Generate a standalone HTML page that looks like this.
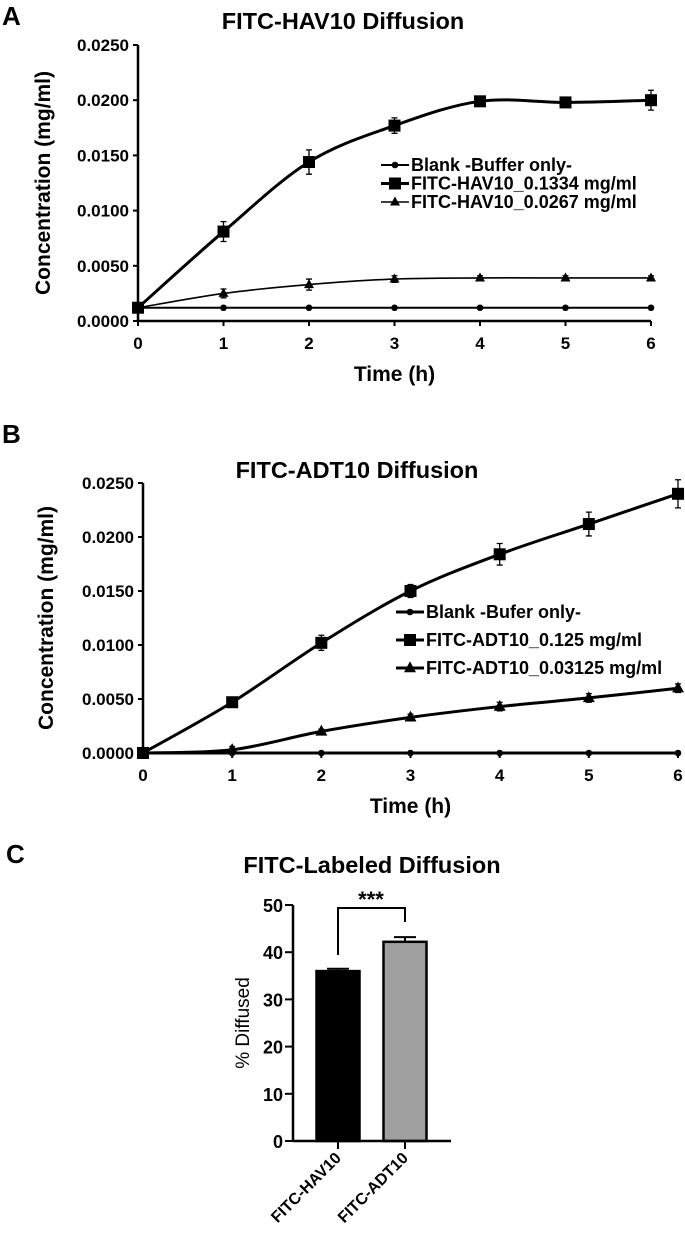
<!DOCTYPE html>
<html><head><meta charset="utf-8"><style>
body{margin:0;background:#fff;width:685px;height:1242px;overflow:hidden}
svg{display:block;font-family:"Liberation Sans",Arial,sans-serif}
</style></head><body>
<svg id="s" width="685" height="1242" viewBox="0 0 685 1242"></svg>
<script>
const timesH=[0,1,2,3,4,5,6];
const aTicks=["0.0000","0.0050","0.0100","0.0150","0.0200","0.0250"];
const aBlank=[0.0012,0.0012,0.0012,0.0012,0.0012,0.0012,0.0012];
const aHigh=[0.0012,0.0081,0.0144,0.0177,0.0199,0.0198,0.0200];
const aHighErr=[0,0.0009,0.0011,0.0007,0.0003,0.0003,0.0009];
const aLow=[0.0012,0.0025,0.0033,0.0038,0.0039,0.0039,0.0039];
const aLowErr=[0,0.0004,0.0005,0.0003,0.0002,0.0002,0.0002];
const bBlank=[0,0,0,0,0,0,0];
const bHigh=[0,0.0047,0.0102,0.0150,0.0184,0.0212,0.0240];
const bHighErr=[0,0.0002,0.0007,0.0006,0.0010,0.0011,0.0013];
const bLow=[0,0.0003,0.0020,0.0033,0.0043,0.0051,0.0060];
const bLowErr=[0,0.0003,0.0002,0.0003,0.0004,0.0004,0.0004];
const cCats=["FITC-HAV10","FITC-ADT10"];
const cVals=[36,42.2];
const cErr=[0.5,1.0];
const cTicks=[0,10,20,30,40,50];

const S=document.getElementById('s');const NS='http://www.w3.org/2000/svg';
function el(t,a,txt){const e=document.createElementNS(NS,t);for(const k in a)e.setAttribute(k,a[k]);if(txt!==undefined)e.textContent=txt;S.appendChild(e);return e;}
function spline(pts){let d='M'+pts[0][0]+','+pts[0][1];for(let i=0;i<pts.length-1;i++){const p0=pts[i-1]||pts[i],p1=pts[i],p2=pts[i+1],p3=pts[i+2]||p2;const t=6;d+=` C${p1[0]+(p2[0]-p0[0])/t},${p1[1]+(p2[1]-p0[1])/t} ${p2[0]-(p3[0]-p1[0])/t},${p2[1]-(p3[1]-p1[1])/t} ${p2[0]},${p2[1]}`;}return d;}

function lineChart(o){
  const X=v=>o.x0+(o.x1-o.x0)*v/6, Y=v=>o.y0-(o.y0-o.y1)*v/0.025;
  let e=el('text',{x:o.tx,y:o.ty,'font-size':23.5,'font-weight':'bold','text-anchor':'middle'},o.title);
  
  e=el('line',{x1:o.x0,y1:o.y1,x2:o.x0,y2:o.y0,stroke:'#000','stroke-width':2.5});
  
  e=el('line',{x1:o.x0,y1:o.y0,x2:o.x1,y2:o.y0,stroke:'#000','stroke-width':2.5});
  
  aTicks.forEach(t=>{const y=Y(+t);el('line',{x1:o.x0-5,y1:y,x2:o.x0,y2:y,stroke:'#000','stroke-width':2});
    e=el('text',{x:o.x0-9,y:y+6,'font-size':17,'font-weight':'bold','text-anchor':'end'},t);
    });
  timesH.forEach(t=>{const x=X(t);el('line',{x1:x,y1:o.y0,x2:x,y2:o.y0+5,stroke:'#000','stroke-width':2});
    e=el('text',{x:x,y:o.y0+28,'font-size':17,'font-weight':'bold','text-anchor':'middle'},t);
    });
  e=el('text',{x:(o.x0+o.x1)/2,y:o.y0+60,'font-size':21,'font-weight':'bold','text-anchor':'middle'},'Time (h)');
  
  const cy=(o.y0+o.y1)/2;
  e=el('text',{x:o.ylx,y:cy,'font-size':21,'font-weight':'bold','text-anchor':'middle',transform:`rotate(-90 ${o.ylx} ${cy})`},'Concentration (mg/ml)');
  
  o.series.forEach((s,si)=>{
    const pts=timesH.map((t,i)=>[X(t),Y(s.v[i])]);
    e=el('path',{d:spline(pts),fill:'none',stroke:'#000','stroke-width':s.w});
    
    timesH.forEach((t,i)=>{const x=X(t),y=Y(s.v[i]);
      if(s.err&&s.err[i]){const e1=Y(s.v[i]+s.err[i]),e2=Y(s.v[i]-s.err[i]);
        el('path',{d:`M${x},${e1}V${e2}M${x-3},${e1}H${x+3}M${x-3},${e2}H${x+3}`,stroke:'#000','stroke-width':1.3,fill:'none'});}
      marker(s.m,x,y,s.ms,o.p+'-point-'+s.n);});
    const ly=o.ly+si*o.lg;
    el('line',{x1:o.lx,y1:ly,x2:o.lx+28,y2:ly,stroke:'#000','stroke-width':s.w});
    marker(s.m,o.lx+14,ly,s.ms,o.p+'-legend-marker');
    e=el('text',{x:o.lx+30,y:ly+6,'font-size':18,'font-weight':'bold'},s.label);
    
  });
}
function marker(m,x,y,sz,name){let e;
  if(m==='c')e=el('circle',{cx:x,cy:y,r:sz*0.55,fill:'#000'});
  else if(m==='s')e=el('rect',{x:x-sz,y:y-sz,width:2*sz,height:2*sz,fill:'#000'});
  else e=el('path',{d:`M${x},${y-sz*1.1}L${x+sz},${y+sz*0.7}L${x-sz},${y+sz*0.7}Z`,fill:'#000'});
  }

let e=el('text',{x:2,y:25,'font-size':26,'font-weight':'bold'},'A');
e=el('text',{x:2,y:443,'font-size':26,'font-weight':'bold'},'B');
e=el('text',{x:6,y:863,'font-size':26,'font-weight':'bold'},'C');

lineChart({p:'a',x0:138,x1:651,y0:321,y1:45,tx:343,ty:29,title:'FITC-HAV10 Diffusion',ylx:50,lx:381,ly:165,lg:18.5,
  series:[{n:'blank',v:aBlank,w:2,m:'c',ms:6,label:'Blank -Buffer only-'},
          {n:'high',v:aHigh,err:aHighErr,w:3,m:'s',ms:6,label:'FITC-HAV10_0.1334 mg/ml'},
          {n:'low',v:aLow,err:aLowErr,w:1.6,m:'t',ms:5,label:'FITC-HAV10_0.0267 mg/ml'}]});
lineChart({p:'b',x0:143,x1:678,y0:753,y1:483,tx:357,ty:478,title:'FITC-ADT10 Diffusion',ylx:53,lx:396,ly:612,lg:28,
  series:[{n:'blank',v:bBlank,w:3,m:'c',ms:6,label:'Blank -Bufer only-'},
          {n:'high',v:bHigh,err:bHighErr,w:3,m:'s',ms:6,label:'FITC-ADT10_0.125 mg/ml'},
          {n:'low',v:bLow,err:bLowErr,w:3,m:'t',ms:6,label:'FITC-ADT10_0.03125 mg/ml'}]});

// Panel C
const cx0=293,cx1=451,cy0=1141,cy1=905;const CY=v=>cy0-(cy0-cy1)*v/50;
const cCenters=[338,405],bw=43;
e=el('text',{x:372,y:873,'font-size':23.5,'font-weight':'bold','text-anchor':'middle'},'FITC-Labeled Diffusion');
cVals.forEach((v,i)=>{const cx=cCenters[i];
  let b=el('rect',{x:cx-bw/2,y:CY(v),width:bw,height:cy0-CY(v),fill:i?'#a0a0a0':'#000',stroke:'#000','stroke-width':2.5});
  
  const et=CY(v+cErr[i]);el('path',{d:`M${cx},${CY(v)}V${et}M${cx-11},${et}H${cx+11}`,stroke:'#000','stroke-width':2,fill:'none'});
  el('line',{x1:cx,y1:cy0,x2:cx,y2:cy0+8,stroke:'#000','stroke-width':2});
  const t=el('text',{x:cx+4,y:cy0+18,'font-size':16,'font-weight':'bold','text-anchor':'end',transform:`rotate(-45 ${cx+4} ${cy0+18})`},cCats[i]);
  });
e=el('line',{x1:cx0,y1:cy1,x2:cx0,y2:cy0,stroke:'#000','stroke-width':2.5});
e=el('line',{x1:cx0,y1:cy0,x2:cx1,y2:cy0,stroke:'#000','stroke-width':2.5});
cTicks.forEach(t=>{const y=CY(t);el('line',{x1:cx0-8,y1:y,x2:cx0,y2:y,stroke:'#000','stroke-width':2});
  const tt=el('text',{x:cx0-10,y:y+7,'font-size':18,'font-weight':'bold','text-anchor':'end'},t);});
e=el('text',{x:249,y:1023,'font-size':19,'text-anchor':'middle',transform:'rotate(-90 249 1023)'},'% Diffused');
e=el('path',{d:`M${cCenters[0]},955V908H${cCenters[1]}V922`,fill:'none',stroke:'#000','stroke-width':2});
e=el('text',{x:371,y:907,'font-size':22,'font-weight':'bold','text-anchor':'middle'},'***');
</script>
</body></html>
